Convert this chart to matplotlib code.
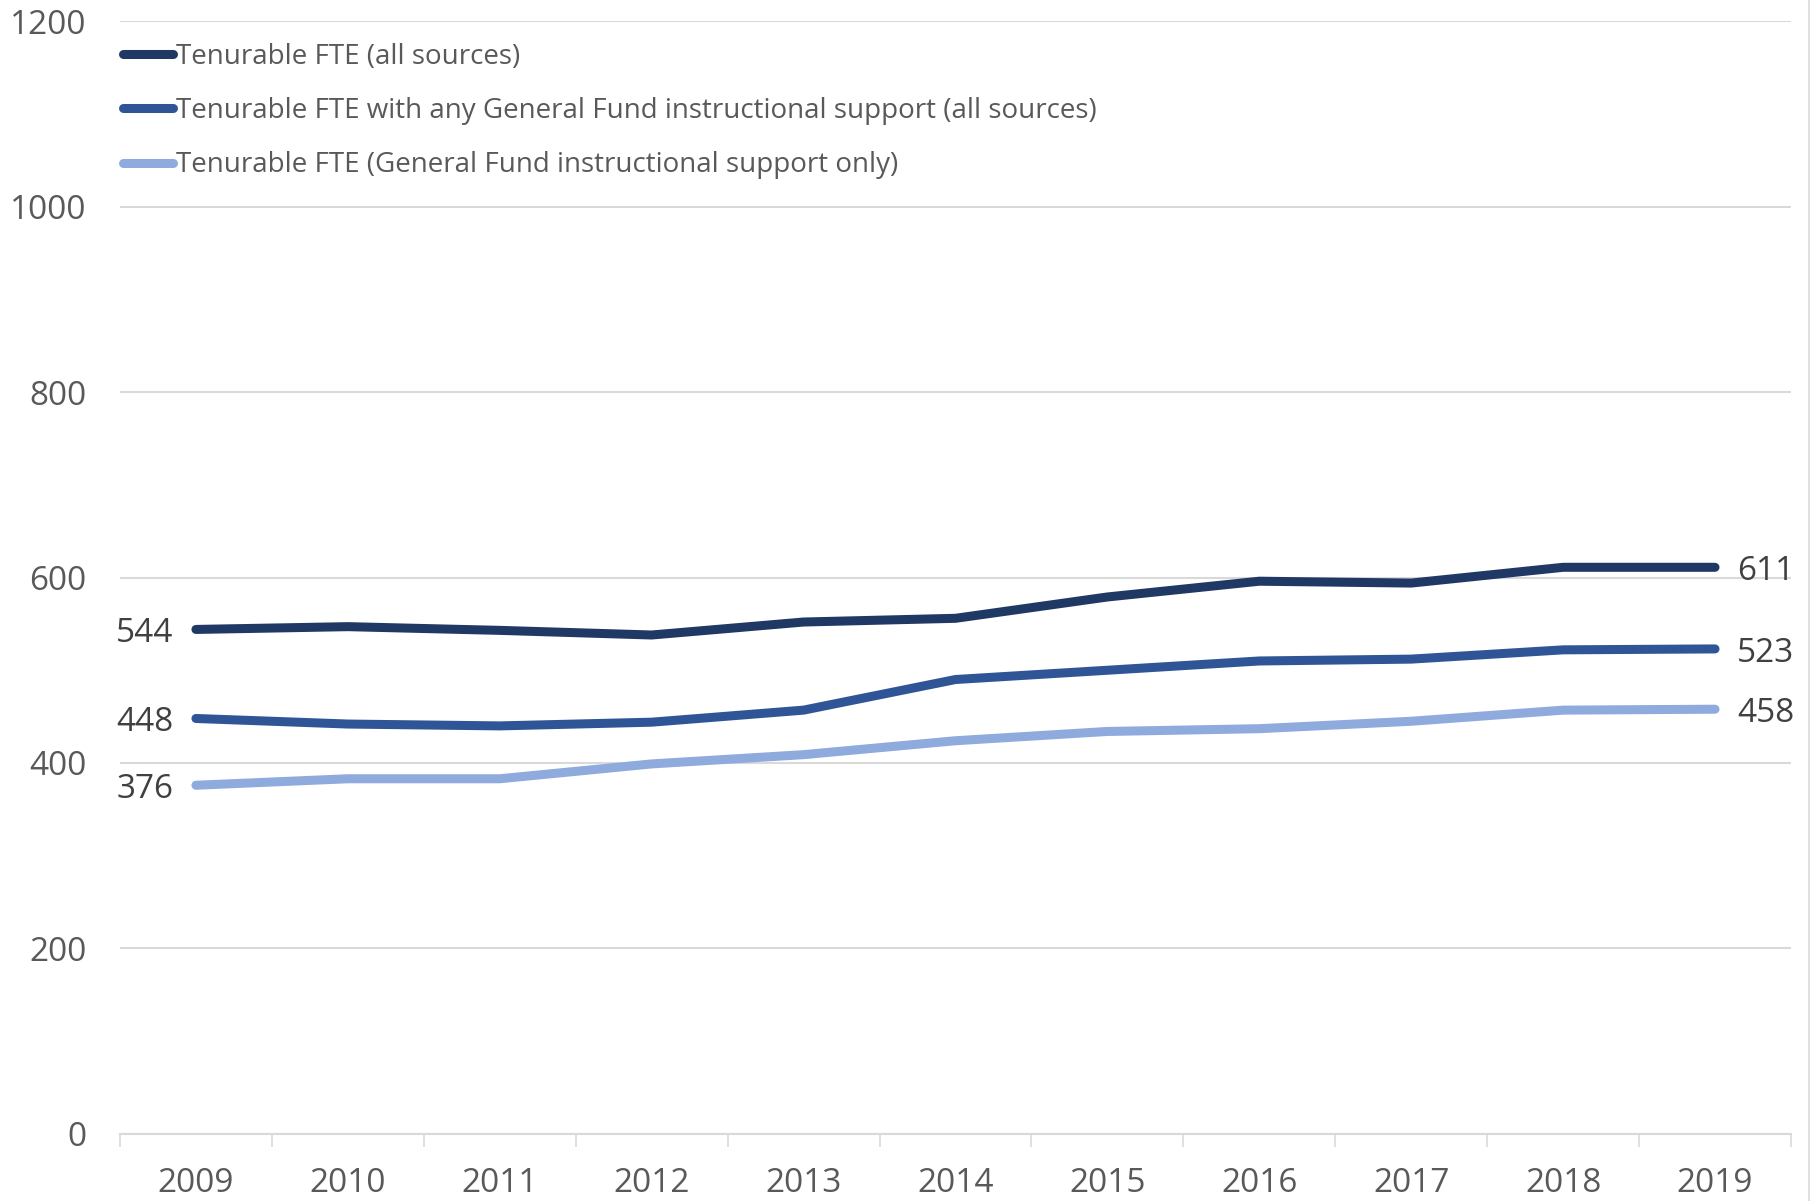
import numpy as np
import matplotlib.pyplot as plt
from matplotlib.lines import Line2D

years = ['2009', '2010', '2011', '2012', '2013', '2014', '2015', '2016', '2017', '2018', '2019']
fte_all = [544, 547, 543, 538, 552, 556, 579, 596, 594, 611, 611]
fte_any_gf = [448, 442, 440, 444, 457, 490, 500, 510, 512, 522, 523]
fte_gf_only = [376, 383, 383, 399, 409, 424, 434, 437, 445, 457, 458]
series_names = ['Tenurable FTE (all sources)',
                'Tenurable FTE with any General Fund instructional support (all sources)',
                'Tenurable FTE (General Fund instructional support only)']
colors = ['#203864', '#2F5597', '#8FAADC']

plt.rcParams['font.family'] = ['Open Sans', 'DejaVu Sans']

fig = plt.figure(figsize=(18.12, 12.01), dpi=100)
ax = fig.add_axes([0.0662, 0.0558, 0.9222, 0.9267])

x = np.arange(len(years))
for vals, name, c in zip([fte_all, fte_any_gf, fte_gf_only], series_names, colors):
    ax.plot(x, vals, color=c, lw=6.5, solid_capstyle='round', solid_joinstyle='round',
            label=name, zorder=3)
    # end-point value labels
    ax.annotate(str(vals[0]), (x[0], vals[0]), xytext=(-16, -3), textcoords='offset points',
                ha='right', va='center', fontsize=24, color='#404040')
    ax.annotate(str(vals[-1]), (x[-1], vals[-1]), xytext=(16, -3), textcoords='offset points',
                ha='left', va='center', fontsize=24, color='#404040')

ax.set_xlim(-0.5, len(years) - 0.5)
ax.set_ylim(0, 1200)
ax.set_yticks(range(0, 1201, 200))
ax.set_xticks(x)
ax.set_xticklabels(years)
ax.set_xticks(np.arange(-0.5, len(years), 1), minor=True)
ax.grid(axis='y', color='#D9D9D9', lw=1.5, zorder=0)
for s in ['top', 'right', 'left']:
    ax.spines[s].set_visible(False)
ax.spines['bottom'].set_color('#D9D9D9')
ax.spines['bottom'].set_linewidth(1.5)
ax.tick_params(axis='y', length=0, pad=24, labelsize=24, labelcolor='#595959')
ax.tick_params(axis='x', which='major', length=0, pad=24, labelsize=24, labelcolor='#595959')
ax.tick_params(axis='x', which='minor', length=9, width=1.2, color='#D9D9D9')

handles = [Line2D([0], [0], color=c, lw=6.5, solid_capstyle='round') for c in colors]
ax.legend(handles, series_names, loc='upper left', bbox_to_anchor=(0.0, 0.983),
          frameon=False, fontsize=20, labelcolor='#595959', handlelength=1.8,
          handletextpad=0.12, labelspacing=0.95, borderaxespad=0, borderpad=0.1)

fig.add_artist(Line2D([0.9985, 0.9985], [0, 1], color='#D9D9D9', lw=1.2))

fig.savefig('out.png', dpi=100)
